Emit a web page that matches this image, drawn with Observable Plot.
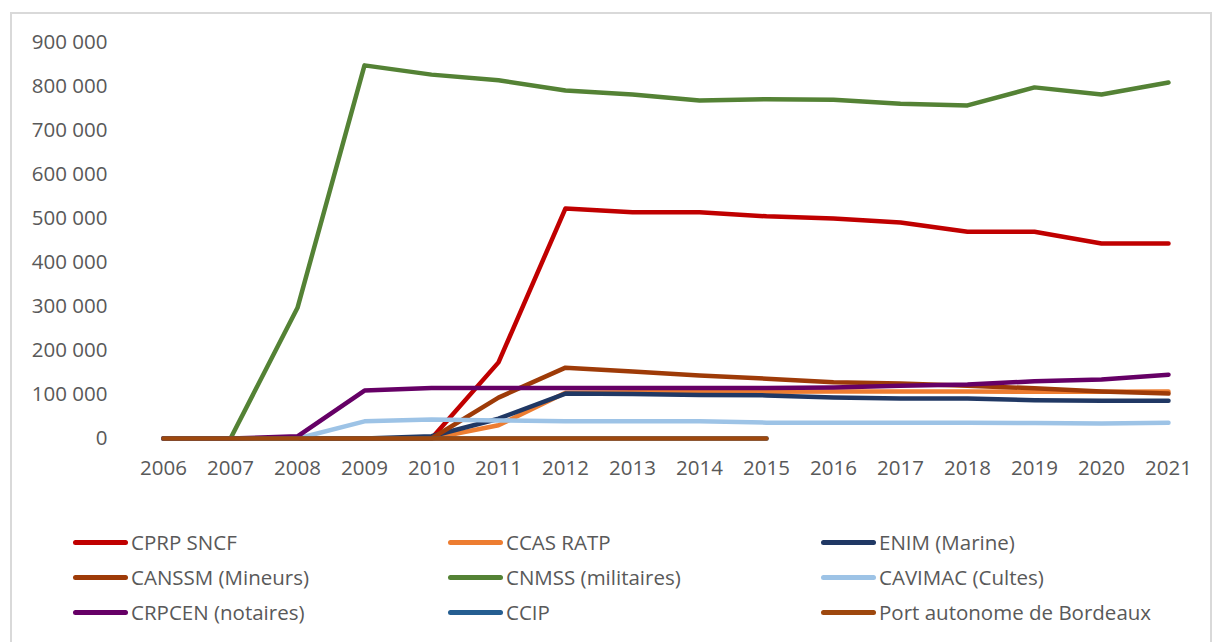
<!DOCTYPE html>
<html>
<head>
<meta charset="utf-8">
<script src="https://cdn.jsdelivr.net/npm/d3@7"></script>
<script src="https://cdn.jsdelivr.net/npm/@observablehq/plot@0.6"></script>
<style>
  body { margin: 0; background: #fff; }
  #wrap { position: relative; width: 1216px; height: 642px; overflow: hidden; font-family: "Open Sans", sans-serif; }
  #frame { position: absolute; left: 10px; top: 12px; width: 1202px; height: 640px; border: 2px solid #d9d9d9; box-sizing: border-box; }
  #chart { position: absolute; left: 0; top: 0; }
  .leg { position: absolute; display: flex; align-items: center; font-size: 20.5px; color: #595959; white-space: nowrap; }
  .sw { width: 55px; height: 5px; border-radius: 3px; margin-right: 3px; }
</style>
</head>
<body>
<div id="wrap"><div id="frame"></div><div id="chart"></div><div id="legend"></div></div>
<script>
const years = [2006,2007,2008,2009,2010,2011,2012,2013,2014,2015,2016,2017,2018,2019,2020,2021];
const seriesNames = ["CPRP SNCF","CCAS RATP","ENIM (Marine)","CANSSM (Mineurs)","CNMSS (militaires)","CAVIMAC (Cultes)","CRPCEN (notaires)","CCIP","Port autonome de Bordeaux"];
const seriesColors = ["#c00000","#ed7d31","#203864","#9e3b08","#548235","#9dc3e6","#660066","#255e91","#9e480e"];
const cprp    = [0,0,0,0,0,173000,523000,514000,514000,505000,500000,491000,470000,470000,443000,443000];
const ccas    = [0,0,0,0,0,30000,104000,105000,105000,106000,107000,107000,107000,106000,106000,107000];
const enim    = [0,0,0,0,5000,45000,102000,101000,99000,98000,93000,91000,91000,87000,86000,86000];
const canssm  = [0,0,0,0,0,93000,161000,152000,143000,136000,128000,125000,120000,114000,107000,102000];
const cnmss   = [0,0,297000,848000,827000,814000,791000,782000,768000,771000,770000,761000,757000,798000,782000,809000];
const cavimac = [0,0,0,39000,43000,41000,39000,39000,39000,36000,36000,36000,36000,35000,34000,36000];
const crpcen  = [0,0,5000,109000,115000,115000,115000,115000,115000,115000,116000,120000,123000,130000,134000,145000];
const ccip    = [0,0,0,0,0,0,0,0,0,0,null,null,null,null,null,null];
const port    = [0,0,0,0,0,0,0,0,0,0,null,null,null,null,null,null];
const yTicks = [0,100000,200000,300000,400000,500000,600000,700000,800000,900000];

const allValues = [cprp, ccas, enim, canssm, cnmss, cavimac, crpcen, ccip, port];
const rows = [];
seriesNames.forEach((name, i) => {
  allValues[i].forEach((v, j) => { if (v != null) rows.push({series: name, year: years[j], value: v}); });
});

const fmt = d => d3.format(",")(d).replace(/,/g, "\u00a0");

const chart = Plot.plot({
  width: 1216,
  height: 480,
  marginLeft: 130,
  marginRight: 16,
  marginTop: 42,
  marginBottom: 42,
  style: { fontFamily: "Open Sans, sans-serif", fontSize: "20.5px", color: "#595959", background: "transparent" },
  x: { type: "point", domain: years, range: [163, 1168], padding: 0, label: null },
  y: { domain: [0, 900000], label: null },
  color: { domain: seriesNames, range: seriesColors },
  marks: [
    Plot.ruleY(yTicks, { x1: 130, x2: 1200, y: d => d, stroke: "#d9d9d9", strokeWidth: 1.5 }),
    Plot.line(rows, { x: "year", y: "value", z: "series", stroke: "series", strokeWidth: 4.5, strokeLinecap: "round", strokeLinejoin: "round" }),
    Plot.axisY(yTicks, { tickSize: 0, tickPadding: 23, tickFormat: fmt, fill: "#595959", label: null }),
    Plot.axisX(years, { tickSize: 0, tickPadding: 22, tickFormat: d => String(d), fill: "#595959", label: null })
  ]
});
document.getElementById("chart").appendChild(chart);

const legendCols = [73, 448, 821];
const legendRows = [542, 577, 612];
const legend = document.getElementById("legend");
seriesNames.forEach((name, i) => {
  const col = i % 3, row = Math.floor(i / 3);
  const d = document.createElement("div");
  d.className = "leg";
  d.style.left = legendCols[col] + "px";
  d.style.top = (legendRows[row] - 14) + "px";
  d.style.height = "28px";
  const sw = document.createElement("span");
  sw.className = "sw";
  sw.style.background = seriesColors[i];
  d.appendChild(sw);
  const t = document.createElement("span");
  t.textContent = name;
  d.appendChild(t);
  legend.appendChild(d);
});
</script>
</body>
</html>
